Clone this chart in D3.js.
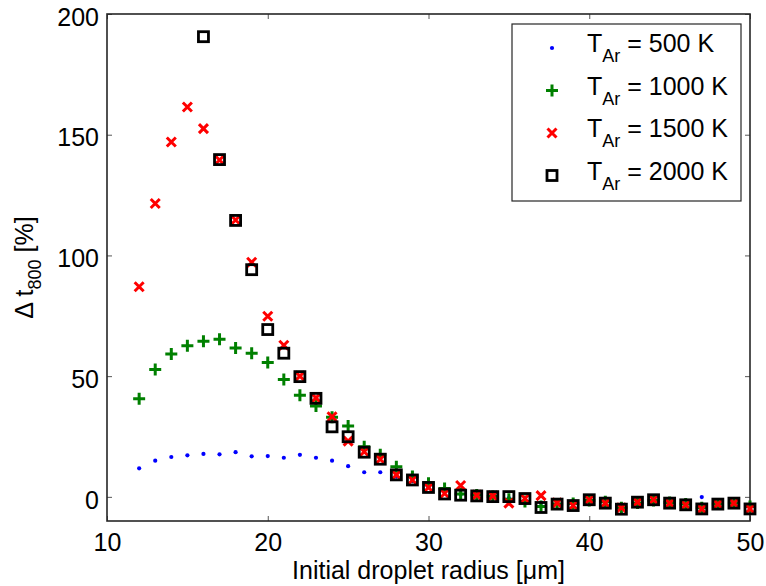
<!DOCTYPE html>
<html>
<head>
<meta charset="utf-8">
<script src="https://cdn.jsdelivr.net/npm/d3@7"></script>
<style>
  html, body { margin: 0; padding: 0; background: #fff; }
  text { font-family: "Liberation Sans", Arial, Helvetica, sans-serif; fill: #000; }
</style>
</head>
<body>
<svg id="chart" width="766" height="586"></svg>
<script>
// Initial droplet radius [µm] for each temperature series
const radii500  = d3.range(12, 51);
const radii1000 = d3.range(12, 51);
const radii1500 = d3.range(12, 51);
const radii2000 = d3.range(16, 51);

// Δt800 [%] values per argon temperature
const dt500 = [11.8, 15, 16.5, 17.2, 17.8, 17.6, 18.5, 16.8, 16.9, 16.2, 17.4, 16.2, 15, 12.7, 10.2, 10.2, 8.4,
  6.5, 4, 2, 1, 0.5, 0, -0.5, -1, -2.5, -2.5, -3, -1.5, -2.5, -4, -2.5, -1.5, -2.5, -3, -0.1, -3, -2.5, -4.5];
const dt1000 = [40.6, 52.8, 59.2, 62.6, 64.5, 65.3, 61.7, 59.5, 55.6, 48.6, 42.1, 37.6, 33, 29.3, 20.8, 17.4, 12.5,
  8.4, 5.6, 3.5, 1.2, 0.8, 0.1, -1, -1.9, -4, -3, -2.8, -1.5, -2, -4.5, -2.5, -1.5, -2.3, -3, -4.5, -3, -2.5, -4];
const dt1500 = [87, 121.5, 147, 161.5, 152.5, 139.5, 114.7, 97.2, 74.8, 62.8, 50, 41, 33.2, 23.1, 18.7, 15.6, 9.1,
  7, 3.9, 1.4, 4.7, 0.7, 0.4, -2.6, -0.7, 0.5, -2.5, -3.6, -1.2, -2.6, -4.5, -2.2, -1.2, -2.6, -3.3, -5, -3, -2.6, -5];
const dt2000 = [190.6, 139.7, 114.5, 94.1, 69.3, 59.5, 49.8, 40.8, 29, 24.9, 18.5, 15.6, 9.1, 7, 3.9, 1.2, 0.7,
  0.4, 0.1, 0.1, -0.7, -4.4, -3, -3.6, -1.2, -2.6, -5.1, -2.2, -1.2, -2.6, -3.3, -5, -3, -2.6, -5];

const seriesNames = ["500 K", "1000 K", "1500 K", "2000 K"];
const xTicks = [10, 20, 30, 40, 50];
const yTicks = [0, 50, 100, 150, 200];

const svg = d3.select("#chart");
const plotLeft = 107, plotRight = 750, plotTop = 14, plotBottom = 521;

const x = d3.scaleLinear().domain([10, 50]).range([plotLeft, plotRight]);
const y = d3.scaleLinear().domain([-10, 200]).range([plotBottom, plotTop]);

// Axes: inward ticks on all four sides, labels on bottom and left only
const axisColor = "#262626";
function styleAxis(g) {
  g.select(".domain").remove();
  g.selectAll(".tick line").attr("stroke", "#555").attr("stroke-width", 1);
  g.selectAll(".tick text").style("font-size", "25px").attr("fill", "#000");
}
svg.append("g").attr("transform", `translate(0,${plotBottom})`)
  .call(d3.axisBottom(x).tickValues(xTicks).tickSize(-5).tickPadding(12).tickFormat(d3.format("d")))
  .call(styleAxis);
svg.append("g").attr("transform", `translate(0,${plotTop})`)
  .call(d3.axisTop(x).tickValues(xTicks).tickSize(-5).tickFormat(""))
  .call(styleAxis);
svg.append("g").attr("transform", `translate(${plotLeft},0)`)
  .call(d3.axisLeft(y).tickValues(yTicks).tickSize(-5).tickPadding(8).tickFormat(d3.format("d")))
  .call(styleAxis)
  .call(g => g.selectAll(".tick text").attr("dy", "0.45em"));
svg.append("g").attr("transform", `translate(${plotRight},0)`)
  .call(d3.axisRight(y).tickValues(yTicks).tickSize(-5).tickFormat(""))
  .call(styleAxis);

svg.append("rect")
  .attr("x", plotLeft).attr("y", plotTop)
  .attr("width", plotRight - plotLeft).attr("height", plotBottom - plotTop)
  .attr("fill", "none").attr("stroke", axisColor).attr("stroke-width", 1.6);

// Marker drawing helpers; each takes pixel positions
const plusPath = "M-6,0H6M0,-6V6";
const crossPath = "M-4.5,-4.5L4.5,4.5M-4.5,4.5L4.5,-4.5";

function dotMarks(g, pts) {
  g.selectAll("circle").data(pts).join("circle")
    .attr("cx", d => d[0]).attr("cy", d => d[1]).attr("r", 2.1).attr("fill", "#0000ff");
}
function pathMarks(g, pts, path, color) {
  g.selectAll("path").data(pts).join("path")
    .attr("transform", d => `translate(${d[0]},${d[1]})`)
    .attr("d", path).attr("fill", "none").attr("stroke", color).attr("stroke-width", 3);
}
function squareMarks(g, pts) {
  g.selectAll("rect").data(pts).join("rect")
    .attr("x", d => d[0] - 5).attr("y", d => d[1] - 5)
    .attr("width", 10).attr("height", 10)
    .attr("fill", "none").attr("stroke", "#000").attr("stroke-width", 2.8);
}
const toPx = (xs, ys) => xs.map((r, i) => [x(r), y(ys[i])]);

const plot = svg.append("g");
dotMarks(plot.append("g"), toPx(radii500, dt500));
pathMarks(plot.append("g"), toPx(radii1000, dt1000), plusPath, "#008000");
pathMarks(plot.append("g"), toPx(radii1500, dt1500), crossPath, "#ff0000");
squareMarks(plot.append("g"), toPx(radii2000, dt2000));

// Axis titles
svg.append("text")
  .attr("x", (plotLeft + plotRight) / 2).attr("y", 579)
  .attr("text-anchor", "middle").style("font-size", "25px")
  .text("Initial droplet radius [\u03bcm]");

const yTitle = svg.append("text")
  .attr("transform", `translate(33,${(plotTop + plotBottom) / 2}) rotate(-90)`)
  .attr("text-anchor", "middle").style("font-size", "25px");
yTitle.append("tspan").text("\u0394 t");
yTitle.append("tspan").attr("dy", 8).style("font-size", "18px").text("800");
yTitle.append("tspan").attr("dy", -8).text(" [%]");

// Legend
const legend = svg.append("g");
legend.append("rect")
  .attr("x", 512).attr("y", 24).attr("width", 229).attr("height", 177)
  .attr("fill", "#fff").attr("stroke", axisColor).attr("stroke-width", 1.2);

const rowY = [48, 90.5, 133, 175.5];
const markerX = 552;
dotMarks(legend.append("g"), [[markerX, rowY[0]]]);
pathMarks(legend.append("g"), [[markerX, rowY[1]]], plusPath, "#008000");
pathMarks(legend.append("g"), [[markerX, rowY[2]]], crossPath, "#ff0000");
squareMarks(legend.append("g"), [[markerX, rowY[3]]]);

seriesNames.forEach((name, i) => {
  const t = legend.append("text").attr("x", 587).attr("y", rowY[i] + 4).style("font-size", "25px");
  t.append("tspan").text("T");
  t.append("tspan").attr("dy", 10).style("font-size", "18px").text("Ar");
  t.append("tspan").attr("dy", -10).text(" = " + name);
});
</script>
</body>
</html>
